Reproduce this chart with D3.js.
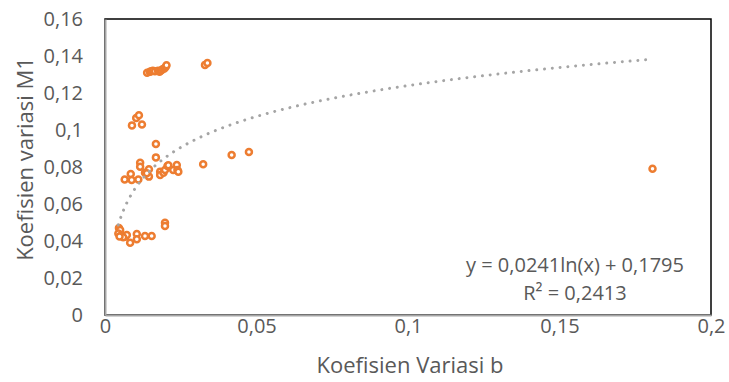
<!DOCTYPE html>
<html><head><meta charset="utf-8">
<script src="https://cdn.jsdelivr.net/npm/d3@7"></script>
<style>body{margin:0;background:#fff}svg{display:block}</style>
</head><body>
<script>
const xValues = [0.0139,0.0148,0.0153,0.0158,0.0165,0.0175,0.0180,0.0185,0.0190,0.0196,0.0200,0.0203,
  0.0330,0.0338,
  0.0089,0.0103,0.0112,0.0122,
  0.0168,0.0168,
  0.0116,0.0116,0.0085,0.0065,0.0088,0.0110,0.0132,0.0145,0.0145,0.0138,0.0182,0.0182,0.0193,0.0198,0.0206,0.0209,0.0225,0.0237,0.0239,0.0242,0.0324,0.0418,0.0475,
  0.0046,0.0050,0.0044,0.0055,0.0066,0.0072,0.0083,0.0105,0.0105,0.0132,0.0154,0.0198,0.0198,0.0060,0.0048,
  0.1807];
const yValues = [0.1310,0.1315,0.1318,0.1320,0.1318,0.1320,0.1315,0.1322,0.1328,0.1332,0.1340,0.1350,
  0.1352,0.1362,
  0.1025,0.1065,0.1080,0.1030,
  0.0924,0.0852,
  0.0823,0.0802,0.0762,0.0733,0.0730,0.0733,0.0769,0.0788,0.0748,0.0766,0.0775,0.0757,0.0769,0.0784,0.0805,0.0810,0.0784,0.0811,0.0784,0.0775,0.0815,0.0865,0.0881,
  0.0470,0.0460,0.0441,0.0432,0.0423,0.0432,0.0391,0.0438,0.0409,0.0427,0.0427,0.0499,0.0481,0.0420,0.0425,
  0.0791];
const xTicks = [0, 0.05, 0.1, 0.15, 0.2];
const yTicks = [0, 0.02, 0.04, 0.06, 0.08, 0.1, 0.12, 0.14, 0.16];
const trendA = 0.0241, trendB = 0.1795;
const eqLabel = "y = 0,0241ln(x) + 0,1795";
const r2Label = "R² = 0,2413";
const xTitle = "Koefisien Variasi b";
const yTitle = "Koefisien variasi M1";

const W = 729, H = 382;
const L = 105, R = 711, T = 19, B = 315;
const font = "'Open Sans', sans-serif";
const textColor = "#595959";
const fmt = v => String(+v.toFixed(3)).replace(".", ",");

const svg = d3.select("body").append("svg").attr("width", W).attr("height", H);
const x = d3.scaleLinear().domain([0, 0.2]).range([L, R]);
const y = d3.scaleLinear().domain([0, 0.16]).range([B, T]);

svg.append("rect").attr("x", L).attr("y", T).attr("width", R - L).attr("height", B - T)
  .attr("fill", "none").attr("stroke", "#000").attr("stroke-width", 1.5);

const xAxis = svg.append("g").attr("transform", `translate(0,${B})`)
  .call(d3.axisBottom(x).tickValues(xTicks).tickFormat(fmt).tickSize(0).tickPadding(4));
const yAxis = svg.append("g").attr("transform", `translate(${L},0)`)
  .call(d3.axisLeft(y).tickValues(yTicks).tickFormat(fmt).tickSize(0).tickPadding(22));
[xAxis, yAxis].forEach(g => {
  g.select(".domain").attr("stroke", "#A6A6A6").attr("stroke-width", 2);
  g.selectAll("text").attr("fill", textColor).style("font-family", font).style("font-size", "20px");
});

const pts = xValues.map((v, i) => [v, yValues[i]]);
svg.append("g").selectAll("circle").data(pts).join("circle")
  .attr("cx", d => x(d[0])).attr("cy", d => y(d[1])).attr("r", 3)
  .attr("fill", "#fff").attr("stroke", "#ED7D31").attr("stroke-width", 2.5);

const xmin = d3.min(xValues), xmax = d3.max(xValues);
const tData = d3.range(0, 201).map(i => {
  const xv = xmin * Math.pow(xmax / xmin, i / 200);
  return [xv, trendA * Math.log(xv) + trendB];
});
svg.append("path").datum(tData)
  .attr("d", d3.line().x(d => x(d[0])).y(d => y(d[1])))
  .attr("fill", "none").attr("stroke", "#A5A5A5").attr("stroke-width", 3)
  .attr("stroke-linecap", "round").attr("stroke-dasharray", "0.01 7.8");

svg.append("text").attr("x", 575).attr("y", 272).attr("text-anchor", "middle")
  .attr("fill", textColor).style("font-family", font).style("font-size", "20px").text(eqLabel);
svg.append("text").attr("x", 575).attr("y", 300).attr("text-anchor", "middle")
  .attr("fill", textColor).style("font-family", font).style("font-size", "20px").text(r2Label);

svg.append("text").attr("x", 410).attr("y", 373).attr("text-anchor", "middle")
  .attr("fill", textColor).style("font-family", font).style("font-size", "22px").text(xTitle);
svg.append("text").attr("transform", `translate(33,${(T + B) / 2 - 8}) rotate(-90)`).attr("text-anchor", "middle")
  .attr("fill", textColor).style("font-family", font).style("font-size", "22px").text(yTitle);
</script>
</body></html>
